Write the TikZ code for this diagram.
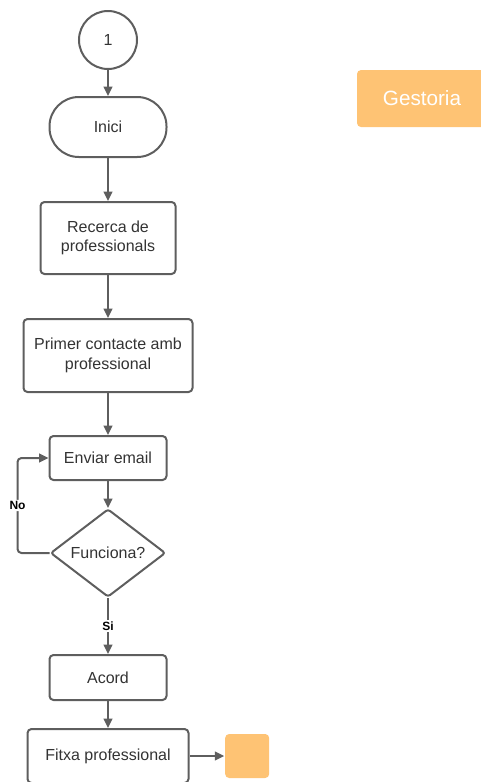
\documentclass[tikz,border=0pt]{standalone}
\usepackage{fontspec}
\setmainfont{Liberation Sans}
\usetikzlibrary{arrows.meta}
\usetikzlibrary{positioning}
\usetikzlibrary{shapes.geometric}

\definecolor{linegray}{HTML}{5E5E5E}
\definecolor{textgray}{HTML}{333333}
\definecolor{lucidorange}{HTML}{FEC374}

\tikzset{
	box/.style={draw=linegray,line width=1.5pt,rectangle,rounded corners=3pt,align=center,
		text=textgray,font=\fontsize{12}{14.5}\selectfont,inner sep=2pt},
	lbl/.style={fill=white,text=black,font=\fontsize{9}{10}\selectfont\bfseries,inner sep=1pt},
}

\begin{document}
\begin{tikzpicture}[>={Triangle[length=7pt,width=6.5pt]},line width=1.5pt,draw=linegray]
		\useasboundingbox (0,0) rectangle (360pt,-586.5pt);

		\node [draw=linegray,circle,minimum size=43.5pt,text=textgray,font=\fontsize{12}{14}\selectfont] (start) at (81pt,-30pt) {1};
		\node [box,below=19.5pt of start,minimum width=87.75pt,minimum height=45pt,rounded corners=22pt] (inici) {Inici};
		\node [box,below=32.25pt of inici,minimum width=101.25pt,minimum height=54pt] (recerca) {Recerca de\\professionals};
		\node [box,below=32.25pt of recerca,minimum width=126.75pt,minimum height=54.75pt] (contacte) {Primer contacte amb\\professional};
		\node [box,below=31.5pt of contacte,minimum width=87.75pt,minimum height=33pt] (email) {Enviar email};
		\node [box,below=20.25pt of email,diamond,rounded corners=2pt,shape aspect=1.33,inner sep=0pt,minimum width=86.25pt,minimum height=66pt] (funciona) {Funciona?};
		\node [box,below=42pt of funciona,minimum width=87.75pt,minimum height=33.75pt] (acord) {Acord};
		\node [box,below=20.25pt of acord,minimum width=120.75pt,minimum height=40.5pt] (fitxa) {Fitxa professional};
		\node [fill=lucidorange,rounded corners=3pt,minimum size=33pt,right=26pt of fitxa] (doc) {};

		\node [fill=lucidorange,rounded corners=3pt,minimum width=97.5pt,minimum height=42.75pt,text=white,font=\fontsize{15.5}{17}\selectfont] (gestoria) at (316.5pt,-73.9pt) {Gestoria};

		\coordinate [left=24pt of funciona.west] (back);

		\draw [->,linegray] (start) -- (inici);
		\draw [->,linegray] (inici) -- (recerca);
		\draw [->,linegray] (recerca) -- (contacte);
		\draw [->,linegray] (contacte) -- (email);
		\draw [->,linegray] (email) -- (funciona);
		\draw [->,linegray,rounded corners=3pt] (funciona.west) -- (back) |- node [lbl,pos=0.25] {No} (email.west);
		\draw [->,linegray] (funciona) -- node [lbl,midway] {Si} (acord);
		\draw [->,linegray] (acord) -- (fitxa);
		\draw [->,linegray] (fitxa) -- (doc);
	\end{tikzpicture}
\end{document}
